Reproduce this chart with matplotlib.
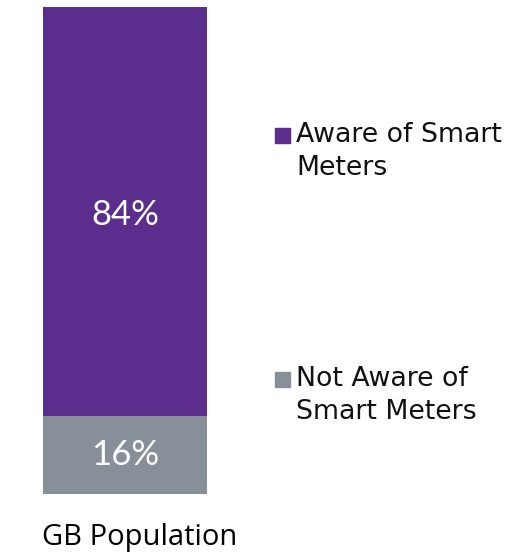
import matplotlib.pyplot as plt
from matplotlib.patches import Rectangle

categories = ['GB Population']
aware = [84]
not_aware = [16]
labels = ['Aware of Smart\nMeters', 'Not Aware of\nSmart Meters']
colors = ['#5B2D8C', '#878F99']

fig = plt.figure(figsize=(5.08, 5.55), dpi=100)
W, H = 508, 555
ax = fig.add_axes([43 / W, (H - 494) / H, (207 - 43) / W, (494 - 7) / H])

ax.bar(categories, not_aware, width=1.0, color=colors[1])
ax.bar(categories, aware, width=1.0, bottom=not_aware, color=colors[0])
ax.set_xlim(-0.5, 0.5)
ax.set_ylim(0, 100)
ax.axis('off')

pct_font = dict(family=['Lato', 'DejaVu Sans'], fontweight='normal')
ax.text(0, not_aware[0] / 2, f'{not_aware[0]}%', color='white', ha='center', va='center',
        fontsize=25, **pct_font)
ax.text(0, not_aware[0] + aware[0] / 2 - 0.8, f'{aware[0]}%', color='white', ha='center', va='center',
        fontsize=25, **pct_font)

fig.text(140 / W, 1 - 538 / H, categories[0], ha='center', va='center', fontsize=21,
         family=['Open Sans', 'DejaVu Sans'])

# legend drawn by hand
legend_y = [136, 380]
for i, lab in enumerate(labels):
    y = legend_y[i]
    fig.patches.append(Rectangle((275 / W, 1 - (y + 7) / H), 15 / W, 15 / H,
                                 transform=fig.transFigure, color=colors[i]))
    fig.text(296 / W, 1 - (y - 14) / H, lab, ha='left', va='top', fontsize=19.3,
             linespacing=1.34, color='#111111')

fig.savefig('out.png', dpi=100)
